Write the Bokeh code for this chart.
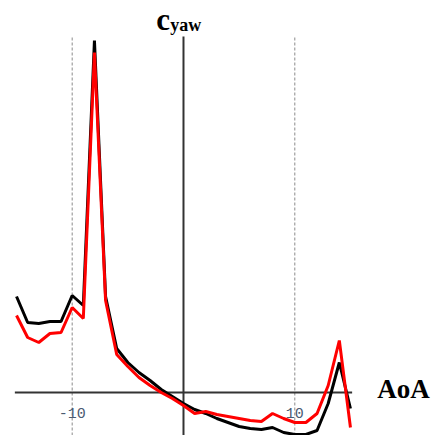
from bokeh.plotting import figure
from bokeh.models import Range1d
from bokeh.core.properties import value
from bokeh.embed import file_html
from bokeh.resources import INLINE

# angle of attack (deg)
aoa = list(range(-15, 16))
# yaw coefficient, black series
cyaw_black = [0.96, 0.70, 0.69, 0.71, 0.71, 0.97, 0.87, 3.52, 0.96, 0.44,
              0.30, 0.20, 0.12, 0.03, -0.04, -0.11, -0.17, -0.21, -0.26, -0.30,
              -0.34, -0.36, -0.37, -0.35, -0.40, -0.42, -0.42, -0.38, -0.11, 0.30,
              -0.16]
# yaw coefficient, red series
cyaw_red = [0.77, 0.55, 0.50, 0.59, 0.60, 0.85, 0.74, 3.40, 0.92, 0.38,
            0.26, 0.15, 0.07, 0.00, -0.06, -0.13, -0.21, -0.19, -0.22, -0.24,
            -0.26, -0.28, -0.29, -0.21, -0.26, -0.30, -0.30, -0.21, 0.07, 0.52,
            -0.35]
tick_vals = [-10, 10]
tick_labels = ["-10", "10"]

x_lo, x_hi = -16.44, 22.91
y_lo, y_hi = -0.43, 3.92
y_top = 3.56

p = figure(width=438, height=435, output_backend="svg", toolbar_location=None,
           x_range=Range1d(x_lo, x_hi), y_range=Range1d(y_lo, y_hi),
           x_axis_location=None, y_axis_location=None,
           min_border=0, outline_line_color=None)
p.grid.visible = False
p.background_fill_color = "white"

# dashed grid lines at the ticks
p.segment(x0=tick_vals, x1=tick_vals, y0=[y_lo] * 2, y1=[y_top] * 2,
          line_color="#8a8a8a", line_width=1, line_dash="3 2")

# axes through the origin
p.segment(x0=[aoa[0] - 0.15], x1=[aoa[-1] + 0.15], y0=[0], y1=[0],
          line_color="#333333", line_width=2)
p.segment(x0=[0], x1=[0], y0=[y_lo], y1=[y_top],
          line_color="#333333", line_width=2)

# tick labels
p.text(x=tick_vals, y=[-0.20] * 2, text=tick_labels, text_align="center",
       text_baseline="alphabetic", text_font=value("Liberation Mono"),
       text_font_size="15px", text_color="#4a5a72")

# data lines
p.line(aoa, cyaw_black, line_color="black", line_width=3)
p.line(aoa, cyaw_red, line_color="#ff0000", line_width=3)

# axis titles
p.text(x=[-2.45], y=[3.73], text=["c"], text_baseline="alphabetic",
       text_font=value("Liberation Serif"), text_font_style="bold",
       text_font_size="31px", text_color="black")
p.text(x=[-1.2], y=[3.675], text=["yaw"], text_baseline="alphabetic",
       text_font=value("Liberation Serif"), text_font_style="bold",
       text_font_size="18px", text_color="black")
p.text(x=[17.4], y=[0.04], text=["AoA"], text_baseline="alphabetic",
       text_font=value("Liberation Serif"), text_font_style="bold",
       text_font_size="27px", text_color="black")

open("out.html", "w").write(file_html(p, INLINE))
